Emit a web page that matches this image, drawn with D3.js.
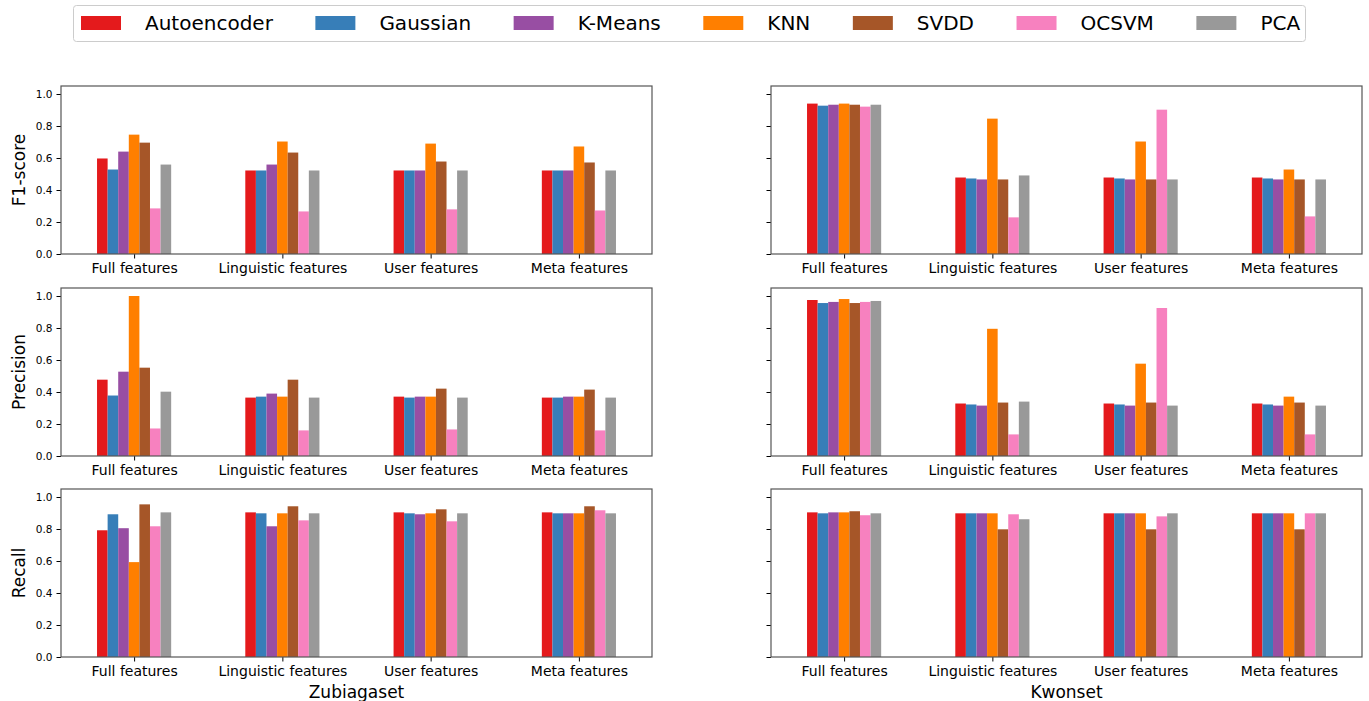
<!DOCTYPE html>
<html>
<head>
<meta charset="utf-8">
<script src="https://cdn.jsdelivr.net/npm/d3@7"></script>
<style>
  html, body { margin: 0; padding: 0; background: #fff; }
  svg { display: block; font-family: "DejaVu Sans", sans-serif; }
</style>
</head>
<body>
<svg id="chart" width="1369" height="701"></svg>
<script>
// ---------------- DATA ----------------
const categories = ["Full features", "Linguistic features", "User features", "Meta features"];
const methods = ["Autoencoder", "Gaussian", "K-Means", "KNN", "SVDD", "OCSVM", "PCA"];
const colors = ["#e41a1c", "#377eb8", "#984ea3", "#ff7f00", "#a65628", "#f781bf", "#999999"];
const yTicks = [0.0, 0.2, 0.4, 0.6, 0.8, 1.0];
const metrics = ["F1-score", "Precision", "Recall"];
const datasets = ["Zubiagaset", "Kwonset"];

// rows = categories, columns = methods
const zubF1 = [
  [0.597, 0.528, 0.640, 0.746, 0.696, 0.285, 0.559],
  [0.522, 0.522, 0.559, 0.703, 0.634, 0.266, 0.522],
  [0.522, 0.522, 0.522, 0.690, 0.578, 0.279, 0.522],
  [0.522, 0.522, 0.522, 0.672, 0.572, 0.272, 0.522]
];
const zubPrecision = [
  [0.477, 0.378, 0.527, 1.000, 0.552, 0.172, 0.402],
  [0.365, 0.371, 0.390, 0.371, 0.477, 0.160, 0.365],
  [0.371, 0.365, 0.371, 0.371, 0.421, 0.166, 0.365],
  [0.365, 0.365, 0.371, 0.371, 0.415, 0.160, 0.365]
];
const zubRecall = [
  [0.792, 0.892, 0.805, 0.593, 0.954, 0.817, 0.904],
  [0.904, 0.898, 0.817, 0.898, 0.942, 0.854, 0.898],
  [0.904, 0.898, 0.892, 0.898, 0.923, 0.848, 0.898],
  [0.904, 0.898, 0.898, 0.898, 0.942, 0.917, 0.898]
];
const kwonF1 = [
  [0.940, 0.927, 0.933, 0.940, 0.933, 0.921, 0.933],
  [0.478, 0.472, 0.466, 0.846, 0.466, 0.229, 0.491],
  [0.478, 0.472, 0.466, 0.703, 0.466, 0.902, 0.466],
  [0.478, 0.472, 0.466, 0.528, 0.466, 0.235, 0.466]
];
const kwonPrecision = [
  [0.975, 0.956, 0.963, 0.981, 0.956, 0.963, 0.969],
  [0.328, 0.322, 0.315, 0.795, 0.334, 0.135, 0.340],
  [0.328, 0.322, 0.315, 0.577, 0.334, 0.925, 0.315],
  [0.328, 0.322, 0.315, 0.371, 0.334, 0.135, 0.315]
];
const kwonRecall = [
  [0.904, 0.898, 0.904, 0.904, 0.911, 0.886, 0.898],
  [0.898, 0.898, 0.898, 0.898, 0.798, 0.892, 0.861],
  [0.898, 0.898, 0.898, 0.898, 0.798, 0.879, 0.898],
  [0.898, 0.898, 0.898, 0.898, 0.798, 0.898, 0.898]
];

const panelData = [
  [zubF1, kwonF1],
  [zubPrecision, kwonPrecision],
  [zubRecall, kwonRecall]
];

// ---------------- LAYOUT ----------------
const svg = d3.select("#chart");
const colLeft = [61, 771];
const panelW = 591;
const rowTop = [86, 288, 489];
const panelH = 168;
const barGroupWidth = 0.5;   // in category units
const spineColor = "#555";

const x = d3.scaleLinear().domain([-0.493, 3.493]);
const y = d3.scaleLinear().domain([0, 1.05]);

for (let r = 0; r < 3; r++) {
  for (let c = 0; c < 2; c++) {
    const x0 = colLeft[c], y0 = rowTop[r];
    const xs = x.copy().range([x0, x0 + panelW]);
    const ys = y.copy().range([y0 + panelH, y0]);
    const data = panelData[r][c];
    const g = svg.append("g");

    const bw = barGroupWidth / methods.length;
    categories.forEach((cat, ci) => {
      methods.forEach((m, mi) => {
        const v = data[ci][mi];
        const cx = ci - barGroupWidth / 2 + bw * mi;
        g.append("rect")
          .attr("x", xs(cx))
          .attr("width", xs(cx + bw) - xs(cx))
          .attr("y", ys(v))
          .attr("height", ys(0) - ys(v))
          .attr("fill", colors[mi]);
      });
    });

    const xAxis = d3.axisBottom(xs)
      .tickValues(d3.range(categories.length))
      .tickFormat(i => categories[i])
      .tickSize(4.5).tickPadding(5);
    const xg = g.append("g").attr("transform", `translate(0,${y0 + panelH})`).call(xAxis);
    xg.select(".domain").remove();
    xg.selectAll("text").attr("font-size", "14px").attr("font-family", "DejaVu Sans").attr("fill", "#000");
    xg.selectAll("line").attr("stroke", "#000");

    const yAxis = d3.axisLeft(ys).tickValues(yTicks)
      .tickFormat(c === 0 ? d3.format(".1f") : () => "")
      .tickSize(4.5).tickPadding(4);
    const yg = g.append("g").attr("transform", `translate(${x0},0)`).call(yAxis);
    yg.select(".domain").remove();
    yg.selectAll("text").attr("font-size", "10.5px").attr("font-family", "DejaVu Sans").attr("fill", "#000");
    yg.selectAll("line").attr("stroke", "#000");

    g.append("rect")
      .attr("x", x0).attr("y", y0).attr("width", panelW).attr("height", panelH)
      .attr("fill", "none").attr("stroke", spineColor).attr("stroke-width", 1.2);

    if (c === 0) {
      svg.append("text")
        .attr("transform", `translate(25,${y0 + panelH / 2}) rotate(-90)`)
        .attr("text-anchor", "middle")
        .attr("font-size", "17px")
        .text(metrics[r]);
    }
    if (r === 2) {
      svg.append("text")
        .attr("x", x0 + panelW / 2).attr("y", 698)
        .attr("text-anchor", "middle")
        .attr("font-size", "17px")
        .text(datasets[c]);
    }
  }
}

// ---------------- LEGEND ----------------
const leg = svg.append("g");
leg.append("rect")
  .attr("x", 73.5).attr("y", 5.5).attr("width", 1232).attr("height", 36)
  .attr("rx", 3).attr("fill", "#fff").attr("stroke", "#cccccc").attr("stroke-width", 1);
let lx = 81;
methods.forEach((m, i) => {
  leg.append("rect").attr("x", lx).attr("y", 16).attr("width", 40).attr("height", 14).attr("fill", colors[i]);
  const t = leg.append("text").attr("x", lx + 64).attr("y", 30).attr("font-size", "20px").text(m);
  const w = t.node().getComputedTextLength();
  lx = lx + 64 + w + 42.5;
});
</script>
</body>
</html>
